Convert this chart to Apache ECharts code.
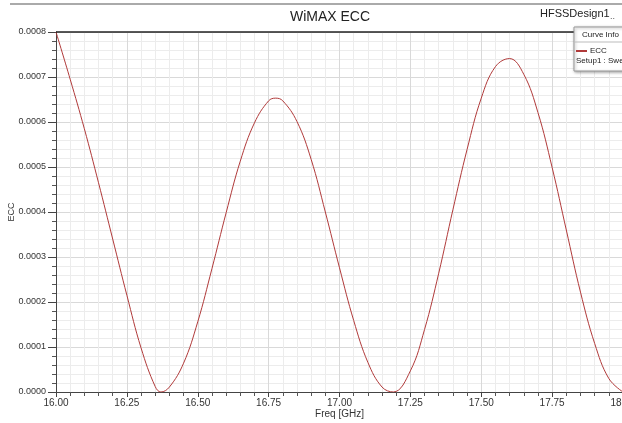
<!DOCTYPE html>
<html>
<head>
<meta charset="utf-8">
<script src="https://cdn.jsdelivr.net/npm/echarts@6/dist/echarts.min.js"></script>
<style>
  html, body { margin: 0; padding: 0; background: #fff; }
  #chart { width: 622px; height: 423px; }
</style>
</head>
<body>
<div id="chart"></div>
<script>
// values (Freq in GHz, ECC)
const freqGHz = [
  16.00, 16.05, 16.10, 16.15, 16.20, 16.25, 16.30, 16.35, 16.37,
  16.40, 16.45, 16.50, 16.55, 16.60, 16.65, 16.70, 16.75, 16.775,
  16.80, 16.85, 16.90, 16.95, 17.00, 17.05, 17.10, 17.15, 17.19,
  17.25, 17.30, 17.35, 17.40, 17.45, 17.50, 17.55, 17.60,
  17.65, 17.70, 17.75, 17.80, 17.85, 17.90, 17.95, 18.00
];
const eccValues = [
  0.000800, 0.000695, 0.000585, 0.000465, 0.000340, 0.000215, 0.000098, 0.000012, 0.000000,
  0.000011, 0.000064, 0.000156, 0.000274, 0.000398, 0.000513, 0.000598, 0.000647, 0.000653,
  0.000647, 0.000601, 0.000517, 0.000400, 0.000276, 0.000159, 0.000066, 0.000011, 0.000000,
  0.000047, 0.000139, 0.000264, 0.000405, 0.000539, 0.000653, 0.000723, 0.000741,
  0.000706, 0.000621, 0.000499, 0.000360, 0.000222, 0.000108, 0.000030, 0.000000
];
const xTicks = ['16.00', '16.25', '16.50', '16.75', '17.00', '17.25', '17.50', '17.75', '18.00'];

const font = "'Liberation Sans Narrow', 'Liberation Sans', Arial, sans-serif";
const lineColor = '#b03a3a';

const chart = echarts.init(document.getElementById('chart'));
chart.setOption({
  animation: false,
  backgroundColor: '#fff',
  textStyle: { fontFamily: font },
  title: {
    text: 'WiMAX ECC',
    left: 325,
    top: 5,
    textAlign: 'center',
    textStyle: { fontSize: 14, fontWeight: 'normal', color: '#222', fontFamily: font }
  },
  legend: {
    data: [{ name: 'ECC', icon: 'rect' }],
    left: 576,
    top: 47,
    z: 101,
    itemWidth: 11,
    itemHeight: 2,
    padding: 0,
    textStyle: { fontSize: 8, color: '#222', fontFamily: font, padding: [0, 0, 0, -2] }
  },
  grid: {
    left: 56, top: 32, width: 567, height: 360,
    outerBoundsMode: 'none', containLabel: false
  },
  xAxis: {
    type: 'value',
    min: 16,
    max: 18,
    interval: 0.25,
    name: 'Freq [GHz]',
    nameLocation: 'middle',
    nameGap: 17,
    nameMoveOverlap: false,
    nameTextStyle: { fontSize: 10, color: '#333', fontFamily: font },
    axisLine: { lineStyle: { color: '#444', width: 1 } },
    axisTick: { length: 5, lineStyle: { color: '#444' } },
    minorTick: { show: true, splitNumber: 5, length: 4, lineStyle: { color: '#555' } },
    axisLabel: {
      fontSize: 10, color: '#333', margin: 6,
      formatter: function (v) { return xTicks[Math.round((v - 16) / 0.25)]; }
    },
    splitLine: { lineStyle: { color: '#d9d9d9' } },
    minorSplitLine: { show: true, lineStyle: { color: '#ececec' } }
  },
  yAxis: {
    type: 'value',
    min: 0,
    max: 0.0008,
    interval: 0.0001,
    name: 'ECC',
    nameLocation: 'middle',
    nameGap: 40,
    nameMoveOverlap: false,
    nameTextStyle: { fontSize: 9, color: '#333', fontFamily: font },
    axisLine: { show: true, lineStyle: { color: '#444', width: 1 } },
    axisTick: { show: true, length: 8, lineStyle: { color: '#444' } },
    minorTick: { show: true, splitNumber: 5, length: 4, lineStyle: { color: '#555' } },
    axisLabel: {
      fontSize: 9, color: '#333', margin: 10,
      formatter: function (v) { return v.toFixed(4); }
    },
    splitLine: { lineStyle: { color: '#d9d9d9' } },
    minorSplitLine: { show: true, lineStyle: { color: '#ececec' } }
  },
  series: [{
    name: 'ECC',
    type: 'line',
    data: freqGHz.map(function (f, i) { return [f, eccValues[i]]; }),
    showSymbol: false,
    smooth: 0.4,
    color: lineColor,
    lineStyle: { color: lineColor, width: 1 },
    z: 3
  }],
  graphic: [
    { type: 'line', z: 50, shape: { x1: 10, y1: 4, x2: 622, y2: 4 }, style: { stroke: '#aaa', lineWidth: 2 } },
    { type: 'line', z: 50, shape: { x1: 56, y1: 32, x2: 622, y2: 32 }, style: { stroke: '#222', lineWidth: 1.5 } },
    { type: 'text', z: 50, left: 540, top: 8, style: { text: 'HFSSDesign1', fontSize: 11, fill: '#222', fontFamily: font } },
    { type: 'text', z: 50, left: 610, top: 12, style: { text: '..', fontSize: 9, fill: '#555', fontFamily: font } },
    {
      type: 'rect', z: 100,
      shape: { x: 574, y: 27, width: 60, height: 44 },
      style: { fill: '#fff', stroke: '#999', lineWidth: 1, shadowBlur: 3, shadowColor: 'rgba(0,0,0,0.35)', shadowOffsetX: 1, shadowOffsetY: 1 }
    },
    { type: 'line', z: 101, shape: { x1: 574, y1: 42, x2: 622, y2: 42 }, style: { stroke: '#bbb', lineWidth: 1 } },
    { type: 'text', z: 101, left: 582, top: 31, style: { text: 'Curve Info', fontSize: 8, fill: '#222', fontFamily: font } },
    { type: 'text', z: 101, left: 576, top: 57, style: { text: 'Setup1 : Sweep', fontSize: 8, fill: '#222', fontFamily: font } }
  ]
});
</script>
</body>
</html>
